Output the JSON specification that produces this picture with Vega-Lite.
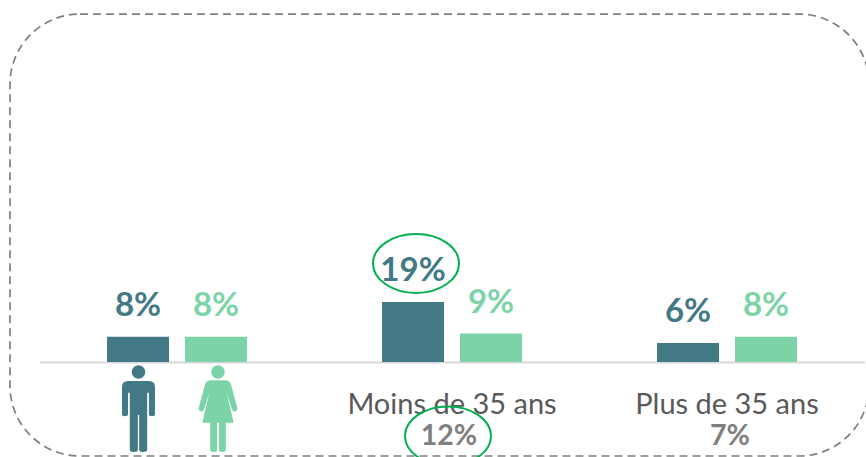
{
  "$schema": "https://vega.github.io/schema/vega-lite/v6.json",
  "width": 866,
  "height": 457,
  "autosize": "none",
  "padding": 0,
  "background": "#ffffff",
  "config": {"view": {"stroke": null}},
  "resolve": {"scale": {"x": "independent"}},
  "layer": [
    {
      "data": {"values": [
        {"groupe": "Ensemble", "sexe": "Hommes", "pct": 8},
        {"groupe": "Ensemble", "sexe": "Femmes", "pct": 8},
        {"groupe": "Moins de 35 ans", "sexe": "Hommes", "pct": 19},
        {"groupe": "Moins de 35 ans", "sexe": "Femmes", "pct": 9},
        {"groupe": "Plus de 35 ans", "sexe": "Hommes", "pct": 6},
        {"groupe": "Plus de 35 ans", "sexe": "Femmes", "pct": 8}
      ]},
      "encoding": {
        "x": {
          "field": "groupe", "type": "nominal",
          "scale": {"domain": ["Ensemble", "Moins de 35 ans", "Plus de 35 ans"], "range": [39.5, 864.5], "paddingInner": 0, "paddingOuter": 0},
          "axis": {
            "title": null, "orient": "bottom", "offset": -95, "ticks": false, "grid": false,
            "domainColor": "#D9D9D9", "domainWidth": 2,
            "labelAngle": 0, "labelFont": "Lato", "labelFontSize": 29, "labelColor": "#595959",
            "labelBaseline": "alphabetic", "labelPadding": 51, "labelLimit": 500, "labelOverlap": false, "labelFlush": false,
            "labelExpr": "datum.value == 'Ensemble' ? '' : datum.value"
          }
        },
        "xOffset": {
          "field": "sexe", "type": "nominal",
          "scale": {"domain": ["Hommes", "Femmes"], "paddingInner": 0.205, "paddingOuter": 0.866}
        },
        "y": {
          "field": "pct", "type": "quantitative",
          "scale": {"domain": [-30.06, 114.56], "zero": false, "nice": false},
          "axis": null
        },
        "color": {
          "field": "sexe", "type": "nominal",
          "scale": {"domain": ["Hommes", "Femmes"], "range": ["#437985", "#7DD3A8"]},
          "legend": null
        }
      },
      "layer": [
        {"mark": {"type": "bar"}},
        {
          "mark": {"type": "text", "font": "Lato", "fontWeight": "bold", "fontSize": 33, "baseline": "alphabetic", "align": "center", "dy": -21},
          "encoding": {"text": {"field": "etiquette", "type": "nominal"}},
          "transform": [{"calculate": "datum.pct + '%'", "as": "etiquette"}]
        }
      ]
    },
    {
      "data": {"values": [{"gauche": 10, "droite": 869, "haut": 110.1, "bas": -29.75}]},
      "mark": {"type": "rect", "filled": false, "stroke": "#7F7F7F", "strokeWidth": 1.7, "strokeDash": [8, 5], "cornerRadius": 70},
      "encoding": {
        "x": {"field": "gauche", "type": "quantitative", "scale": {"domain": [0, 866], "nice": false, "zero": false}, "axis": null},
        "x2": {"field": "droite"},
        "y": {"field": "haut", "type": "quantitative", "axis": null},
        "y2": {"field": "bas"}
      }
    },
    {
      "data": {"values": [{"cx": 416, "cy": 31.2}, {"cx": 448, "cy": -23.4}]},
      "mark": {"type": "point", "filled": false, "stroke": "#00B050", "strokeWidth": 2, "opacity": 1, "size": 7396, "shape": "M-1,0A1,0.686 0 1,1 1,0A1,0.686 0 1,1 -1,0Z"},
      "encoding": {
        "x": {"field": "cx", "type": "quantitative", "scale": {"domain": [0, 866], "nice": false, "zero": false}, "axis": null},
        "y": {"field": "cy", "type": "quantitative", "axis": null}
      }
    },
    {
      "data": {"values": [{"cx": 138.5, "cy": -14.7}]},
      "mark": {"type": "point", "filled": true, "fill": "#437985", "opacity": 1, "size": 7569, "shape": "M-.155,-.839A.155,.155 0 1,1 .155,-.839A.155,.155 0 1,1 -.155,-.839ZM-.24,-.632H.24Q.379,-.632 .379,-.49V.13Q.379,.18 .31,.18Q.24,.18 .24,.13V-.36H.2V.95Q.2,1 .1,1Q.015,1 .015,.95V.15H-.015V.95Q-.015,1 -.1,1Q-.2,1 -.2,.95V-.36H-.24V.13Q-.24,.18 -.31,.18Q-.379,.18 -.379,.13V-.49Q-.379,-.632 -.24,-.632Z"},
      "encoding": {
        "x": {"field": "cx", "type": "quantitative", "scale": {"domain": [0, 866], "nice": false, "zero": false}, "axis": null},
        "y": {"field": "cy", "type": "quantitative", "axis": null}
      }
    },
    {
      "data": {"values": [{"cx": 218, "cy": -14.7}]},
      "mark": {"type": "point", "filled": true, "fill": "#7DD3A8", "opacity": 1, "size": 7569, "shape": "M-.155,-.839A.155,.155 0 1,1 .155,-.839A.155,.155 0 1,1 -.155,-.839ZM-.17,-.65H.17Q.27,-.65 .3,-.55L.44,-.02Q.45,.06 .39,.07Q.34,.08 .32,.02L.2,-.36L.36,.33H.18V.95Q.18,1 .1,1Q.02,1 .02,.95V.33H-.02V.95Q-.02,1 -.1,1Q-.18,1 -.18,.95V.33H-.36L-.2,-.36L-.32,.02Q-.34,.08 -.39,.07Q-.45,.06 -.44,-.02L-.3,-.55Q-.27,-.65 -.17,-.65Z"},
      "encoding": {
        "x": {"field": "cx", "type": "quantitative", "scale": {"domain": [0, 866], "nice": false, "zero": false}, "axis": null},
        "y": {"field": "cy", "type": "quantitative", "axis": null}
      }
    },
    {
      "data": {"values": [{"cx": 449, "cy": -26.3, "total": "12%"}, {"cx": 730, "cy": -26.3, "total": "7%"}]},
      "mark": {"type": "text", "font": "Lato", "fontWeight": "bold", "fontSize": 28.5, "color": "#7F7F7F", "baseline": "alphabetic", "align": "center"},
      "encoding": {
        "x": {"field": "cx", "type": "quantitative", "scale": {"domain": [0, 866], "nice": false, "zero": false}, "axis": null},
        "y": {"field": "cy", "type": "quantitative", "axis": null},
        "text": {"field": "total", "type": "nominal"}
      }
    }
  ]
}
